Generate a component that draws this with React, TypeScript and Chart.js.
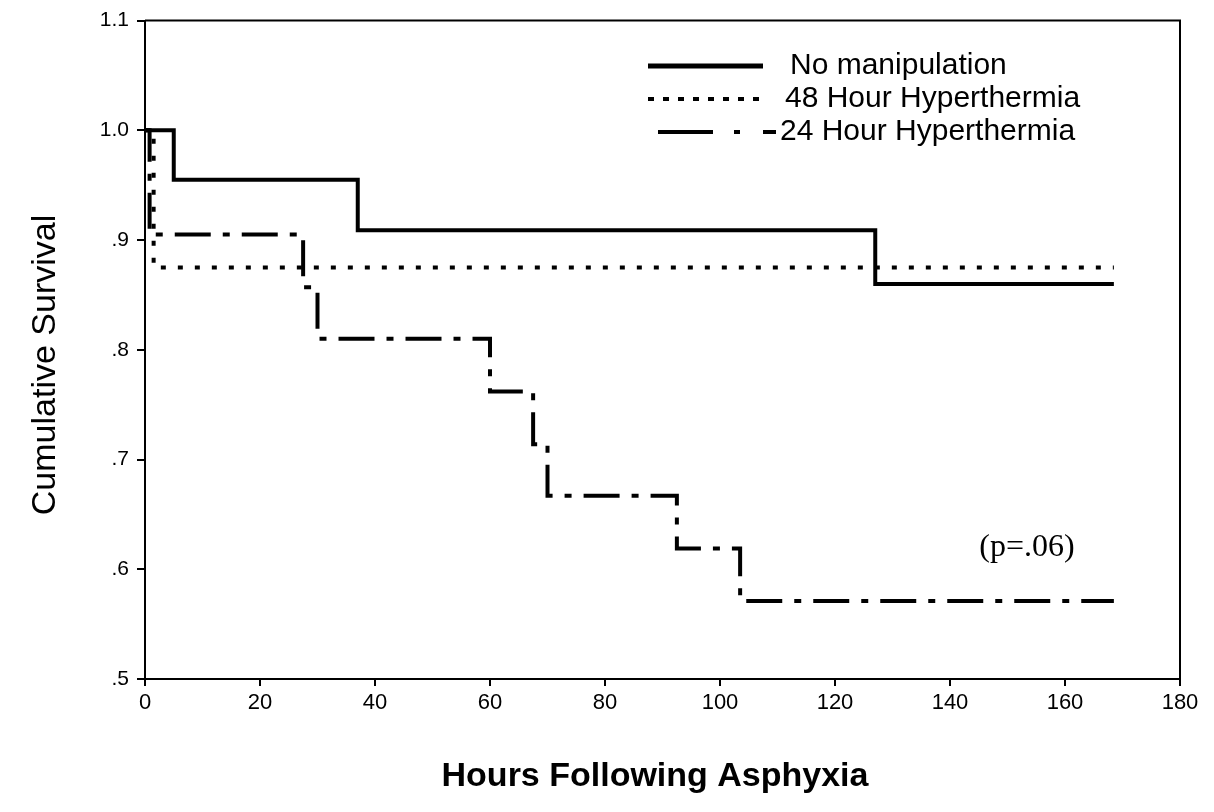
import React, { useEffect, useRef } from 'react';
import { Chart, registerables } from 'chart.js';

Chart.register(...registerables);

// ---- Data ----
const seriesLabels = ['No manipulation', '48 Hour Hyperthermia', '24 Hour Hyperthermia'];

const noManipHours = [0, 5, 37, 127, 168.5];
const noManipSurvival = [1.0, 0.955, 0.909, 0.86, 0.86];

const hyper48Hours = [0, 1.5, 168.5];
const hyper48Survival = [1.0, 0.875, 0.875];

const hyper24Hours = [0, 0.8, 27.5, 30, 60, 67.5, 70, 92.5, 103.5, 168.5];
const hyper24Survival = [1.0, 0.905, 0.857, 0.81, 0.762, 0.714, 0.667, 0.619, 0.571, 0.571];

const xTickValues = [0, 20, 40, 60, 80, 100, 120, 140, 160, 180];
const yTickValues = [0.5, 0.6, 0.7, 0.8, 0.9, 1.0, 1.1];
const yTickLabels = ['.5', '.6', '.7', '.8', '.9', '1.0', '1.1'];

const xAxisTitle = 'Hours Following Asphyxia';
const yAxisTitle = 'Cumulative Survival';
const pValueText = '(p=.06)';

const SANS = '"Liberation Sans", Arial, sans-serif';
const SERIF = '"Liberation Serif", "Times New Roman", serif';

const toPoints = (xs: number[], ys: number[]) => xs.map((x, i) => ({ x, y: ys[i] }));

const dashSolid: number[] = [];
const dashDotted = [5, 12];
const dashDashDot = [36, 12, 7, 12];

const decorPlugin = {
  id: 'decor',
  afterDraw(chart: any) {
    const { ctx, chartArea } = chart;
    ctx.save();
    // box (top & right edges)
    ctx.strokeStyle = '#000';
    ctx.lineWidth = 2;
    ctx.beginPath();
    ctx.moveTo(chartArea.left, chartArea.top);
    ctx.lineTo(chartArea.right, chartArea.top);
    ctx.lineTo(chartArea.right, chartArea.bottom);
    ctx.stroke();

    // axis titles
    ctx.fillStyle = '#000';
    ctx.textAlign = 'center';
    ctx.textBaseline = 'middle';
    ctx.font = `bold 34px ${SANS}`;
    ctx.fillText(xAxisTitle, 655, 777);

    ctx.save();
    ctx.translate(46, 365);
    ctx.rotate(-Math.PI / 2);
    ctx.font = `34px ${SANS}`;
    ctx.fillText(yAxisTitle, 0, 0);
    ctx.restore();

    // p-value
    ctx.font = `32px ${SERIF}`;
    ctx.fillText(pValueText, 1027, 548);

    // legend
    const rows = [
      { y: 66, textX: 790 },
      { y: 99, textX: 785 },
      { y: 132, textX: 780 },
    ];
    ctx.lineCap = 'butt';
    // row 1 solid
    ctx.lineWidth = 5;
    ctx.setLineDash(dashSolid);
    ctx.beginPath();
    ctx.moveTo(648, rows[0].y);
    ctx.lineTo(763, rows[0].y);
    ctx.stroke();
    // row 2 dotted
    ctx.lineWidth = 4;
    ctx.setLineDash([6, 9]);
    ctx.beginPath();
    ctx.moveTo(648, rows[1].y);
    ctx.lineTo(765, rows[1].y);
    ctx.stroke();
    // row 3 dash-dot
    ctx.setLineDash([]);
    ctx.lineWidth = 4;
    const segs = [[658, 713], [734, 740], [763, 776]];
    segs.forEach(([a, b]) => {
      ctx.beginPath();
      ctx.moveTo(a, rows[2].y);
      ctx.lineTo(b, rows[2].y);
      ctx.stroke();
    });

    ctx.font = `30px ${SANS}`;
    ctx.textAlign = 'left';
    rows.forEach((r, i) => ctx.fillText(seriesLabels[i], r.textX, r.y));
    ctx.restore();
  },
};

export default function App() {
  const ref = useRef<HTMLCanvasElement>(null);

  useEffect(() => {
    document.body.style.margin = '0';
    const canvas = ref.current;
    if (!canvas) return;
    const chart = new Chart(canvas, {
      type: 'line',
      data: {
        datasets: [
          {
            label: seriesLabels[0],
            data: toPoints(noManipHours, noManipSurvival),
            borderColor: '#000',
            borderWidth: 4,
            borderDash: dashSolid,
            stepped: true,
            pointRadius: 0,
            fill: false,
          },
          {
            label: seriesLabels[1],
            data: toPoints(hyper48Hours, hyper48Survival),
            borderColor: '#000',
            borderWidth: 4,
            borderDash: dashDotted,
            stepped: true,
            pointRadius: 0,
            fill: false,
          },
          {
            label: seriesLabels[2],
            data: toPoints(hyper24Hours, hyper24Survival),
            borderColor: '#000',
            borderWidth: 4,
            borderDash: dashDashDot,
            stepped: true,
            pointRadius: 0,
            fill: false,
          },
        ],
      },
      options: {
        responsive: false,
        animation: false,
        layout: { padding: { top: 20, right: 34, left: 0, bottom: 0 } },
        plugins: {
          legend: { display: false },
          tooltip: { enabled: false },
          title: { display: false },
        },
        scales: {
          x: {
            type: 'linear',
            min: 0,
            max: 180,
            afterBuildTicks: (scale: any) => {
              scale.ticks = xTickValues.map((v) => ({ value: v }));
            },
            afterFit: (scale: any) => {
              scale.height = 133;
            },
            ticks: {
              color: '#000',
              font: { family: SANS, size: 22 },
              padding: 4,
              maxRotation: 0,
            },
            grid: {
              drawOnChartArea: false,
              drawTicks: true,
              tickLength: 7,
              color: '#000',
              lineWidth: 2,
            },
            border: { color: '#000', width: 2 },
          },
          y: {
            type: 'linear',
            min: 0.5,
            max: 1.1,
            afterBuildTicks: (scale: any) => {
              scale.ticks = yTickValues.map((v) => ({ value: v }));
            },
            afterFit: (scale: any) => {
              scale.width = 145;
            },
            ticks: {
              color: '#000',
              font: { family: SANS, size: 21 },
              padding: 8,
              callback: (value: any) => {
                const idx = yTickValues.findIndex((v) => Math.abs(v - Number(value)) < 1e-6);
                return idx >= 0 ? yTickLabels[idx] : '';
              },
            },
            grid: {
              drawOnChartArea: false,
              drawTicks: true,
              tickLength: 8,
              color: '#000',
              lineWidth: 2,
            },
            border: { color: '#000', width: 2 },
          },
        },
      },
      plugins: [decorPlugin],
    });
    return () => chart.destroy();
  }, []);

  return (
    <canvas
      ref={ref}
      width={1214}
      height={812}
      style={{ display: 'block', position: 'absolute', left: 0, top: 0 }}
    />
  );
}
